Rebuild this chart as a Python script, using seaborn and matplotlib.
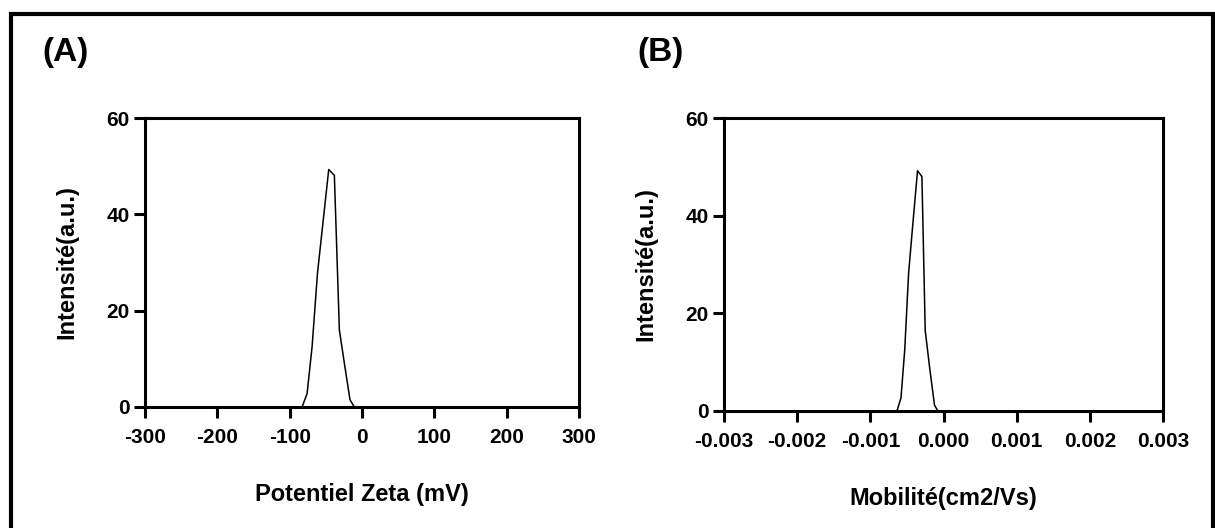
import pandas as pd
import numpy as np
import seaborn as sns
import matplotlib.pyplot as plt
from matplotlib.patches import Rectangle

# (A) zeta potential distribution
zeta = [-82.8, -75.9, -69.0, -61.6, -53.8, -46.0, -38.2, -31.3, -24.0, -16.6, -10.6]
zeta_int = [0.0, 2.8, 12.5, 27.7, 38.5, 49.3, 48.1, 16.0, 8.7, 1.5, 0.0]

# (B) mobility distribution
mobilite = [-0.000636, -0.000581, -0.000530, -0.000477, -0.000418, -0.000355,
            -0.000295, -0.000250, -0.000188, -0.000123, -0.000077]
mob_int = [0.0, 2.7, 12.5, 28.2, 38.5, 49.2, 48.0, 16.5, 8.7, 1.2, 0.0]

zeta_ticks = [-300, -200, -100, 0, 100, 200, 300]
mob_ticks = [-0.003, -0.002, -0.001, 0.0, 0.001, 0.002, 0.003]
y_ticks = [0, 20, 40, 60]

df_a = pd.DataFrame({"x": zeta, "y": zeta_int})
df_b = pd.DataFrame({"x": mobilite, "y": mob_int})

sns.set_style("ticks")
plt.rcParams["font.family"] = ["Liberation Sans", "DejaVu Sans"]
plt.rcParams["font.weight"] = "bold"
plt.rcParams["axes.unicode_minus"] = False
plt.rcParams["text.color"] = "black"
plt.rcParams["axes.labelcolor"] = "black"

fig = plt.figure(figsize=(12.15, 5.28), dpi=100)
W, H = 1215, 528

def add_ax(left, right, top, bottom):
    return fig.add_axes([left / W, 1 - bottom / H, (right - left) / W, (bottom - top) / H])

ax_a = add_ax(145, 579, 118, 407)
ax_b = add_ax(724, 1163, 118, 411)

panels = [
    (ax_a, df_a, zeta_ticks, (-300, 300), "Potentiel Zeta (mV)", "(A)", 42, None),
    (ax_b, df_b, mob_ticks, (-0.003, 0.003), "Mobilité(cm2/Vs)", "(B)", 637, "%.3f"),
]

for ax, df, xt, xl, xlab, tag, tag_x, fmt in panels:
    sns.lineplot(data=df, x="x", y="y", ax=ax, color="black", linewidth=1.1,
                 sort=False, estimator=None)
    ax.set_xlim(*xl)
    ax.set_ylim(0, 60)
    ax.set_xticks(xt)
    ax.set_yticks(y_ticks)
    if fmt:
        ax.xaxis.set_major_formatter(plt.FormatStrFormatter(fmt))
    for s in ax.spines.values():
        s.set_linewidth(2.2)
        s.set_color("black")
    ax.tick_params(direction="out", length=8, width=2.2, labelsize=15,
                   colors="black")
    ax.tick_params(axis="x", pad=7)
    ax.tick_params(axis="y", pad=3)
    for lab in ax.get_xticklabels() + ax.get_yticklabels():
        lab.set_fontweight("bold")
    ax.set_xlabel(xlab, fontsize=17, fontweight="bold", labelpad=26)
    ax.set_ylabel("Intensité(a.u.)", fontsize=17, fontweight="bold", labelpad=20)
    fig.text(tag_x / W, 1 - 52 / H, tag, fontsize=24, fontweight="bold",
             ha="left", va="center")

fig.patches.append(Rectangle((11 / W, -0.05), (1213 - 11) / W, 1 - 14 / H + 0.05,
                             transform=fig.transFigure, fill=False,
                             edgecolor="black", linewidth=3, clip_on=False))

fig.savefig("out.png", dpi=100, facecolor="white")
